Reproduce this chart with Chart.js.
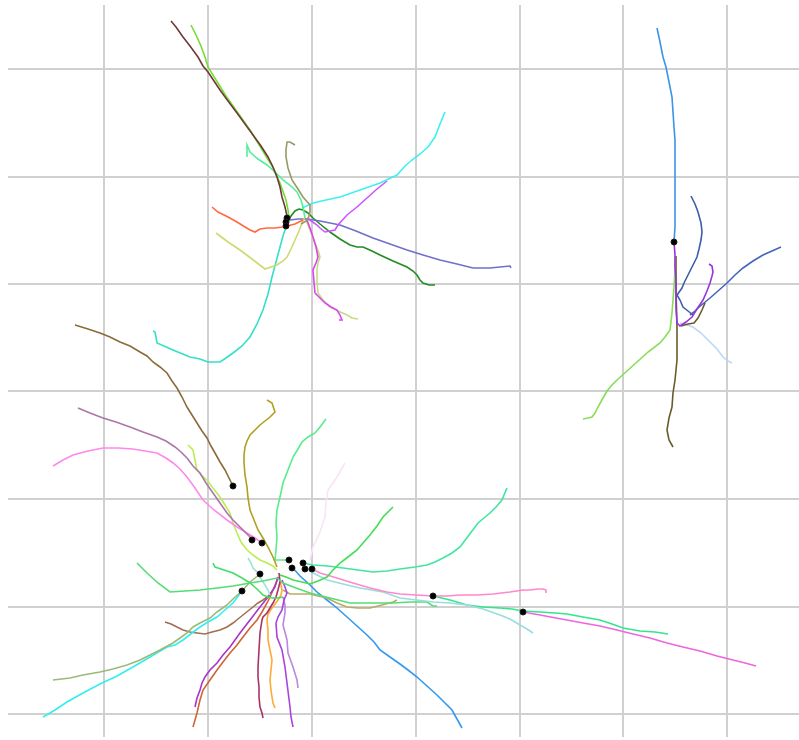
<!DOCTYPE html>
<html>
<head>
<meta charset="utf-8">
<title>Cell trajectories</title>
<script src="https://cdn.jsdelivr.net/npm/chart.js@4/dist/chart.umd.min.js"></script>
<style>
  html, body { margin: 0; padding: 0; background: #ffffff; overflow: hidden; }
  #wrap { width: 799px; height: 740px; }
  #tracks { display: block; }
</style>
</head>
<body>
<div id="wrap"><canvas id="tracks" width="799" height="740"></canvas></div>
<script>
// Image-frame coordinates (x to the right, y downward) of each tracked cell path.
// Grid positions of the field.
const xGrid = [104, 208, 312, 416, 520, 623, 727];
const yGrid = [69, 177, 284, 391, 499, 607, 714];

// ---- upper-left colony ----
const t01 = [[171,21],[176,27],[183,37],[190,46],[198,57],[203,66],[208,72],[214,81],[220,90],[228,101],[237,113],[245,124],[253,135],[261,146],[268,157],[273,167],[277,177],[280,187],[282,197],[285,207],[287,216],[287,222]];
const t02 = [[191,25],[196,35],[201,46],[205,57],[208,67],[216,80],[226,96],[238,113],[250,130],[261,148],[272,166],[280,183],[286,200],[288,210],[289,218]];
const t03 = [[247,157],[247,145],[250,152],[258,159],[267,165],[275,172],[283,180],[291,186],[297,192],[301,200],[303,207],[305,218]];
const t04 = [[295,145],[290,142],[287,142],[286,150],[286,157],[288,168],[292,180],[298,189],[303,197],[310,205],[310,212],[308,220],[301,224]];
const t05 = [[212,207],[218,212],[228,217],[237,222],[245,227],[250,230],[255,232],[260,229],[267,228],[275,228],[283,227],[295,224],[303,220]];
const t06 = [[216,233],[228,242],[240,250],[252,259],[265,269],[271,267],[277,265],[283,261],[287,257],[291,249],[295,240],[299,231],[302,223],[305,217]];
const t07 = [[286,227],[283,236],[280,247],[276,262],[272,277],[268,294],[263,310],[257,324],[250,337],[242,346],[233,353],[226,358],[220,362],[214,362],[208,362],[200,359],[190,357],[173,350],[157,343],[156,337],[155,332],[153,331]];
const t08 = [[302,208],[313,203],[326,200],[340,197],[360,190],[380,183],[397,175],[405,166],[412,160],[420,154],[428,147],[435,137],[440,124],[445,112]];
const t09 = [[387,181],[377,189],[367,198],[357,207],[347,215],[338,225],[335,230],[330,231],[325,232],[320,228],[317,225],[307,218]];
const t10 = [[290,220],[298,219],[307,219],[320,221],[330,223],[340,225],[356,231],[373,238],[390,244],[407,250],[423,255],[440,260],[457,264],[473,268],[490,268],[500,267],[510,266],[511,268]];
const t11 = [[288,222],[291,216],[295,211],[299,209],[303,210],[308,213],[313,218],[320,224],[330,232],[340,239],[350,245],[357,247],[363,247],[372,251],[380,255],[393,261],[407,267],[413,271],[417,275],[420,280],[423,283],[429,285],[435,285]];
const t12 = [[307,220],[310,228],[313,237],[316,247],[318,257],[316,263],[313,270],[314,282],[315,293],[320,298],[325,303],[331,307],[337,310],[340,315],[342,320],[339,320]];
const t13 = [[305,218],[310,230],[315,243],[318,250],[320,257],[318,263],[317,270],[317,282],[318,293],[323,300],[330,307],[338,311],[347,315],[352,318],[358,319]];

// ---- right colony ----
const t14 = [[657,28],[660,42],[663,57],[666,67],[668,77],[670,87],[672,97],[673,112],[674,127],[675,140],[675,153],[675,170],[675,187],[675,207],[675,227],[674,242]];
const t15 = [[674,242],[675,255],[675,267],[676,280],[676,293],[676,308],[677,323],[680,326],[686,322],[692,317],[697,309],[703,300],[707,291],[710,283],[712,276],[713,272],[712,266],[709,264]];
const t16 = [[675,257],[675,270],[674,287],[673,300],[672,313],[671,322],[670,330],[665,337],[660,343],[648,352],[637,362],[627,371],[617,380],[612,385],[607,391],[603,398],[598,407],[595,413],[592,417],[588,418],[583,419]];
const t17 = [[676,256],[676,290],[677,327],[677,343],[677,360],[676,370],[675,380],[673,393],[672,407],[669,418],[667,430],[669,440],[673,447]];
const t18 = [[681,326],[688,324],[694,323],[698,318],[702,310],[705,303]];
const t19 = [[691,196],[695,204],[698,212],[701,223],[702,232],[701,240],[699,249],[697,257],[692,267],[687,277],[684,283],[682,288],[677,295],[680,300],[683,307],[688,311],[693,315]];
const t20 = [[781,247],[772,251],[763,255],[753,261],[743,268],[735,275],[727,283],[718,291],[710,298],[704,303],[698,308],[694,312],[690,315]];
const t21 = [[680,323],[687,325],[693,327],[701,333],[710,342],[717,349],[723,357],[728,361],[732,363]];

// ---- lower colony ----
const t22 = [[75,325],[88,329],[100,333],[110,337],[120,342],[130,346],[140,352],[147,356],[153,362],[160,367],[167,373],[172,381],[177,388],[182,397],[187,407],[192,415],[197,423],[202,431],[207,438],[211,446],[215,453],[220,462],[225,470],[229,478],[233,486]];
const t23 = [[78,408],[90,413],[103,418],[116,422],[130,427],[143,432],[157,437],[166,441],[175,447],[181,452],[187,458],[193,466],[200,473],[206,483],[213,493],[220,503],[227,513],[233,520],[240,527],[246,533],[252,539]];
const t24 = [[53,466],[63,460],[73,455],[88,451],[103,448],[118,448],[133,449],[145,451],[157,453],[166,458],[173,463],[180,469],[187,477],[195,488],[203,500],[214,510],[227,520],[237,527],[247,533],[255,538],[262,543]];
const t25 = [[188,445],[193,450],[195,460],[197,470],[201,475],[207,480],[213,488],[220,497],[225,505],[230,513],[233,523],[237,533],[241,542],[247,550],[253,555],[260,560],[267,563],[273,566],[277,570]];
const t26 = [[267,400],[272,403],[275,412],[270,417],[265,421],[260,425],[255,430],[250,435],[247,441],[245,447],[244,455],[244,463],[245,475],[247,487],[248,498],[250,510],[254,520],[258,530],[263,538],[268,547],[273,557],[277,567]];
const t27 = [[326,419],[320,427],[315,433],[308,437],[302,442],[298,449],[293,457],[288,470],[283,483],[280,497],[277,510],[276,523],[277,537],[276,550],[275,560],[282,560],[289,560]];
const t28 = [[345,463],[341,470],[337,477],[333,483],[328,490],[326,503],[325,517],[320,532],[313,547],[310,560]];
const t29 = [[393,507],[388,512],[383,517],[377,526],[370,535],[363,543],[357,550],[348,557],[340,563],[333,570],[327,577],[318,581],[310,584],[302,582],[293,580],[286,577],[280,575]];
const t30 = [[507,488],[504,495],[502,500],[496,507],[490,513],[484,518],[478,523],[472,531],[466,539],[460,547],[452,553],[443,558],[435,562],[427,565],[415,567],[400,569],[387,571],[373,572],[358,570],[343,568],[328,566],[313,565],[303,563]];
const t31 = [[312,569],[320,573],[327,575],[340,579],[353,583],[370,588],[387,592],[400,594],[417,595],[433,596],[447,596],[460,595],[477,595],[493,594],[510,592],[523,590],[530,590],[538,589],[543,589],[546,590],[546,593]];
const t32 = [[305,568],[315,574],[327,580],[343,584],[360,588],[383,592],[400,598],[417,600],[433,602],[450,603],[467,605],[483,609],[500,615],[510,619],[520,625],[527,629],[533,633]];
const t33 = [[433,596],[450,600],[467,605],[483,607],[500,608],[512,609],[523,611],[540,612],[555,613],[567,614],[583,617],[600,620],[612,624],[623,628],[640,631],[655,632],[668,634]];
const t34 = [[523,612],[540,615],[556,618],[567,620],[583,623],[600,626],[617,630],[633,634],[650,638],[667,643],[683,647],[700,651],[717,656],[733,660],[745,663],[756,666]];
const t35 = [[137,563],[142,568],[147,573],[158,583],[170,592],[185,591],[200,590],[217,588],[233,586],[250,583],[263,581],[277,578],[283,583],[296,588],[310,593],[330,598],[350,603],[370,603],[393,603],[410,602],[420,602],[427,602],[433,606],[437,606]];
const t36 = [[213,563],[215,567],[224,570],[233,573],[242,578],[250,583],[257,589],[263,595],[268,597],[273,598],[278,598],[283,597]];
const t37 = [[248,558],[251,563],[253,568],[257,572],[260,577],[265,585],[268,590],[270,595]];
const t38 = [[260,574],[255,578],[250,582],[242,591],[234,598],[227,605],[217,612],[210,618],[200,623],[193,627],[187,633],[180,638],[173,643],[160,650],[150,655],[140,660],[127,665],[113,669],[100,672],[83,675],[70,678],[53,680]];
const t39 = [[242,591],[233,603],[225,610],[217,617],[208,622],[200,627],[192,633],[183,640],[175,645],[167,647],[150,657],[133,667],[117,676],[100,684],[83,693],[67,702],[55,710],[43,717]];
const t40 = [[165,622],[171,624],[177,627],[183,630],[190,632],[197,633],[205,634],[212,632],[220,630],[227,627],[233,623],[238,619],[243,615],[248,611],[253,607],[258,603],[263,600],[270,595]];
const t41 = [[278,577],[275,587],[268,597],[260,607],[250,620],[240,633],[230,647],[223,655],[217,663],[210,670],[205,677],[202,683],[200,690],[197,698],[195,707]];
const t42 = [[278,577],[276,583],[273,590],[270,597],[267,603],[262,612],[257,620],[250,628],[243,637],[237,645],[230,653],[223,662],[217,670],[210,680],[203,690],[200,700],[197,713],[195,720],[193,727]];
const t43 = [[279,573],[280,582],[278,590],[276,597],[273,603],[270,608],[267,613],[263,617],[262,620],[260,633],[259,650],[258,667],[258,677],[259,687],[259,697],[260,707],[262,713],[263,718]];
const t44 = [[280,580],[282,590],[281,595],[278,600],[275,604],[272,608],[268,614],[267,620],[268,630],[268,640],[270,650],[272,660],[271,670],[270,680],[271,690],[272,697],[273,703],[275,708]];
const t45 = [[282,580],[285,587],[287,593],[284,600],[282,610],[278,617],[276,623],[277,637],[282,650],[285,667],[287,683],[290,707],[291,717],[293,727]];
const t46 = [[283,597],[285,605],[285,613],[283,625],[287,640],[288,653],[293,667],[297,680],[298,688]];
const t47 = [[283,590],[290,594],[300,594],[310,594],[318,596],[327,598],[337,603],[347,607],[358,608],[370,608],[382,605],[393,602],[397,600]];
const t48 = [[292,567],[300,576],[310,585],[318,593],[327,600],[337,608],[347,617],[357,626],[367,635],[374,642],[380,650],[390,657],[400,664],[408,670],[417,677],[427,686],[437,695],[445,703],[452,710],[457,719],[462,728]];

// Frames where a cell was marked.
const markers = [[287,218],[286,222],[286,226],[674,242],[233,486],[252,540],[262,543],[289,560],[292,568],[303,563],[305,569],[312,569],[260,574],[242,591],[433,596],[523,612]];

const tracks = [t01,t02,t03,t04,t05,t06,t07,t08,t09,t10,t11,t12,t13,t14,t15,t16,t17,t18,t19,t20,t21,t22,t23,t24,t25,t26,t27,t28,t29,t30,t31,t32,t33,t34,t35,t36,t37,t38,t39,t40,t41,t42,t43,t44,t45,t46,t47,t48];
const trackColors = [
  '#6e3a3a','#77dd33','#55ee99','#999966','#ff6a40','#d0d870','#33e0c8','#40f0f0','#cc55ff','#7070cc','#228b22','#dd44ee','#c0e080',
  '#3b93e8','#9933dd','#88dd55','#6b5a2a','#6b5a2a','#3d5eaa','#4466bb','#bcd8f8',
  '#8b6b3a','#aa77aa','#ff88ee','#bbee55','#b0a020','#55ee88','#f8e4f4','#44dd55','#40e6a0','#ff88cc','#99dddd','#33e68c','#ee66dd',
  '#55dd77','#44dd66','#99e6d6','#99bb77','#33eeee','#a07050','#aa33cc','#cc6633','#aa3366','#ffaa33','#aa44dd','#bb88dd','#bbaa66','#3399ee'
];

const toPts = arr => arr.map(p => ({ x: p[0], y: p[1] }));

const datasets = [{
  label: 'marked',
  data: toPts(markers),
  showLine: false,
  pointRadius: 3,
  pointHoverRadius: 3,
  pointBackgroundColor: '#000000',
  pointBorderColor: '#1a1a1a',
  pointBorderWidth: 1,
  order: 0
}];
tracks.forEach((t, i) => {
  datasets.push({
    label: 'track ' + (i + 1),
    data: toPts(t),
    showLine: true,
    borderColor: trackColors[i],
    borderWidth: 1.6,
    pointRadius: 0,
    pointHoverRadius: 0,
    fill: false,
    tension: 0,
    order: 1
  });
});

function fixedTicks(values) {
  return axis => { axis.ticks = values.map(v => ({ value: v })); };
}

new Chart(document.getElementById('tracks'), {
  type: 'scatter',
  data: { datasets },
  options: {
    responsive: false,
    animation: false,
    devicePixelRatio: 1,
    layout: { autoPadding: false, padding: { left: 8, top: 5, right: 0, bottom: 3 } },
    plugins: { legend: { display: false }, tooltip: { enabled: false } },
    scales: {
      x: {
        type: 'linear', min: 8, max: 799,
        afterBuildTicks: fixedTicks(xGrid),
        ticks: { display: false },
        grid: { color: '#d0d0d0', lineWidth: 2, drawTicks: false, tickLength: 0 },
        border: { display: false }
      },
      y: {
        type: 'linear', reverse: true, min: 5, max: 737,
        afterBuildTicks: fixedTicks(yGrid),
        ticks: { display: false },
        grid: { color: '#d0d0d0', lineWidth: 2, drawTicks: false, tickLength: 0 },
        border: { display: false }
      }
    }
  }
});
</script>
</body>
</html>
